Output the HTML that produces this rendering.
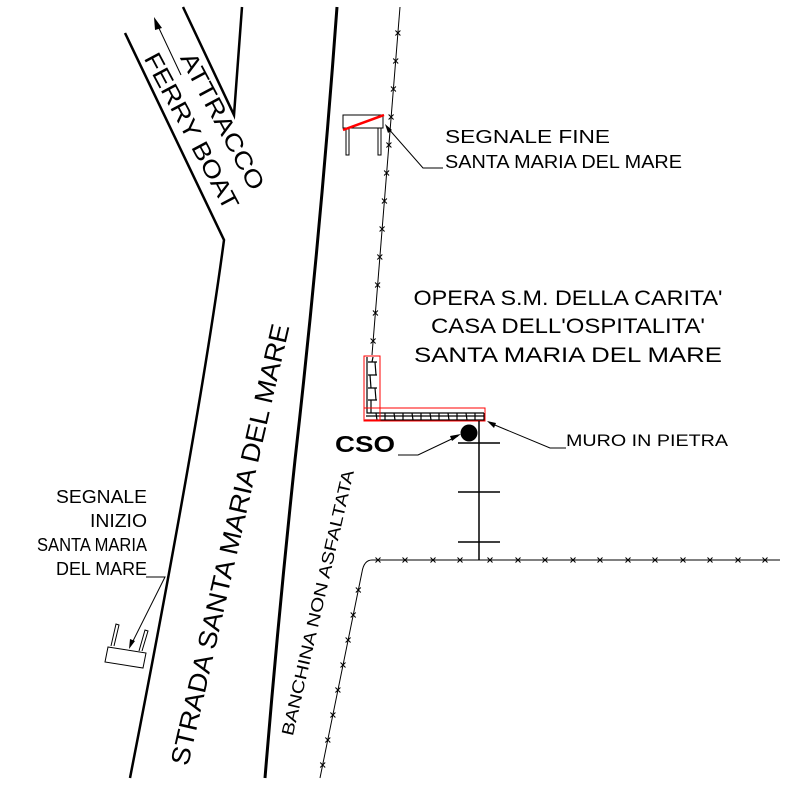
<!DOCTYPE html>
<html><head><meta charset="utf-8"><style>html,body{margin:0;padding:0;background:#fff}svg{display:block}</style></head>
<body>
<svg width="788" height="788" viewBox="0 0 788 788" xmlns="http://www.w3.org/2000/svg" xmlns:xlink="http://www.w3.org/1999/xlink" font-family="Liberation Sans, sans-serif">
<defs><path id="x" d="M-2.5,-2.5 l5,5 m0,-5 l-5,5" stroke="#000" stroke-width="1" fill="none"/></defs>
<rect width="788" height="788" fill="#fff"/>
<g fill="none" stroke="#000" stroke-width="2.5">
<path d="M125,33 L224,240 Q200,420 130,778"/>
<path d="M183,7 L234,115 L242,7"/>
<path d="M337,7 Q320,240 295,460 Q278,620 265,778" stroke-width="3"/>
</g>
<g fill="none" stroke="#000" stroke-width="1">
<path d="M400,7 L372,355"/>
<path d="M320,778 L362,572 Q364,560 372,560 L780,560"/>
</g>
<g>
<use xlink:href="#x" x="397.9" y="33"/><use xlink:href="#x" x="395.7" y="61"/><use xlink:href="#x" x="393.4" y="89"/><use xlink:href="#x" x="391.1" y="117"/><use xlink:href="#x" x="388.9" y="145"/><use xlink:href="#x" x="386.6" y="173"/><use xlink:href="#x" x="384.4" y="201"/><use xlink:href="#x" x="382.1" y="229"/><use xlink:href="#x" x="379.8" y="257"/><use xlink:href="#x" x="377.6" y="285"/><use xlink:href="#x" x="375.4" y="313"/><use xlink:href="#x" x="373.1" y="341"/>
<use xlink:href="#x" x="358.3" y="590"/><use xlink:href="#x" x="353.2" y="615"/><use xlink:href="#x" x="348.1" y="640"/><use xlink:href="#x" x="343" y="665"/><use xlink:href="#x" x="337.9" y="690"/><use xlink:href="#x" x="332.9" y="715"/><use xlink:href="#x" x="327.8" y="740"/><use xlink:href="#x" x="322.7" y="765"/>
<use xlink:href="#x" x="378" y="560"/><use xlink:href="#x" x="405" y="560"/><use xlink:href="#x" x="433" y="560"/><use xlink:href="#x" x="460" y="560"/><use xlink:href="#x" x="490" y="560"/><use xlink:href="#x" x="518" y="560"/><use xlink:href="#x" x="545" y="560"/><use xlink:href="#x" x="573" y="560"/><use xlink:href="#x" x="600" y="560"/><use xlink:href="#x" x="628" y="560"/><use xlink:href="#x" x="655" y="560"/><use xlink:href="#x" x="683" y="560"/><use xlink:href="#x" x="710" y="560"/><use xlink:href="#x" x="738" y="560"/><use xlink:href="#x" x="765" y="560"/>
</g>
<line x1="181" y1="75" x2="157" y2="24" stroke="#000" stroke-width="1"/>
<polygon points="154,17 162,28 155,30" fill="#000"/>
<text transform="translate(221,122) rotate(62)" font-size="24" text-anchor="middle" dominant-baseline="middle" textLength="152" lengthAdjust="spacingAndGlyphs">ATTRACCO</text>
<text transform="translate(190,132) rotate(62)" font-size="24" text-anchor="middle" dominant-baseline="middle" textLength="174" lengthAdjust="spacingAndGlyphs">FERRY BOAT</text>
<text transform="translate(232,545) rotate(-77)" font-size="26" text-anchor="middle" dominant-baseline="middle" textLength="452" lengthAdjust="spacingAndGlyphs">STRADA SANTA MARIA DEL MARE</text>
<text transform="translate(319,603) rotate(-77)" font-size="17" text-anchor="middle" dominant-baseline="middle" textLength="272" lengthAdjust="spacingAndGlyphs">BANCHINA NON ASFALTATA</text>
<rect x="343" y="115" width="40" height="13" fill="none" stroke="#000" stroke-width="1"/>
<rect x="346" y="128" width="3" height="27" fill="none" stroke="#000" stroke-width="1"/>
<rect x="378" y="128" width="3" height="27" fill="none" stroke="#000" stroke-width="1"/>
<line x1="343" y1="130" x2="384" y2="115" stroke="#f00" stroke-width="2.5"/>
<polyline points="387,127 423,168 443,168" fill="none" stroke="#000" stroke-width="1"/>
<polygon points="385,124 392,130 388,133" fill="#000"/>
<g font-size="18" lengthAdjust="spacingAndGlyphs">
<text x="445" y="143" textLength="165" lengthAdjust="spacingAndGlyphs">SEGNALE FINE</text>
<text x="445" y="168" textLength="237" lengthAdjust="spacingAndGlyphs">SANTA MARIA DEL MARE</text>
</g>
<g font-size="21" text-anchor="middle">
<text x="568" y="305" textLength="309" lengthAdjust="spacingAndGlyphs">OPERA S.M. DELLA CARITA'</text>
<text x="568" y="333" textLength="274" lengthAdjust="spacingAndGlyphs">CASA DELL'OSPITALITA'</text>
<text x="568" y="362" textLength="308" lengthAdjust="spacingAndGlyphs">SANTA MARIA DEL MARE</text>
</g>
<g fill="none" stroke="#000" stroke-width="1.2">
<path d="M367,357 L367,413 L484,413"/>
<path d="M365,420 L484,420 L484,413"/>
<path d="M368,362 l9,0 M368,375 l9,0 M368,388 l9,0 M368,400 l9,0 M373,357 l-1,5 M375,362 l1,13 M370,375 l1,13 M375,388 l1,12 M371,400 l0,13"/>
<path d="M376,413 l1,7 M385,413 l0,7 M394,413 l1,7 M403,413 l0,7 M412,413 l1,7 M421,413 l0,7 M430,413 l1,7 M439,413 l0,7 M448,413 l1,7 M457,413 l0,7 M466,413 l1,7 M475,413 l0,7 M366,416 l118,0"/>
</g>
<rect x="364" y="356" width="16" height="64" fill="none" stroke="#f00" stroke-width="1"/>
<rect x="364" y="408" width="121" height="13" fill="none" stroke="#f00" stroke-width="1"/>
<circle cx="469" cy="433" r="8.5" fill="#000"/>
<g stroke="#000" stroke-width="1.5">
<line x1="479" y1="421" x2="479" y2="560"/>
<line x1="458" y1="443" x2="500" y2="443"/>
<line x1="458" y1="492" x2="500" y2="492"/>
<line x1="458" y1="542" x2="500" y2="542"/>
</g>
<text x="335" y="452" font-size="23" font-weight="bold" textLength="60" lengthAdjust="spacingAndGlyphs">CSO</text>
<polyline points="398,455 418,455 458,436" fill="none" stroke="#000" stroke-width="1"/>
<polygon points="461,434 452,441 450,436" fill="#000"/>
<polyline points="490,423 550,448 566,448" fill="none" stroke="#000" stroke-width="1"/>
<polygon points="487,421 496,423 494,428" fill="#000"/>
<text x="566" y="446" font-size="17" textLength="162" lengthAdjust="spacingAndGlyphs">MURO IN PIETRA</text>
<g font-size="18" text-anchor="end">
<text x="147" y="503" textLength="91" lengthAdjust="spacingAndGlyphs">SEGNALE</text>
<text x="147" y="527" textLength="57" lengthAdjust="spacingAndGlyphs">INIZIO</text>
<text x="147" y="551" textLength="110" lengthAdjust="spacingAndGlyphs">SANTA MARIA</text>
<text x="147" y="575" textLength="91" lengthAdjust="spacingAndGlyphs">DEL MARE</text>
</g>
<polyline points="146,577 165,577 131,645" fill="none" stroke="#000" stroke-width="1"/>
<polygon points="129,649 130,639 135,641" fill="#000"/>
<g fill="none" stroke="#000" stroke-width="1">
<polygon points="108,647 146,653 143,668 105,662"/>
<path d="M111,646 L116,624 L119,625 L114,646 M139,651 L145,630 L148,631 L142,651"/>
</g>
</svg>
</body></html>
